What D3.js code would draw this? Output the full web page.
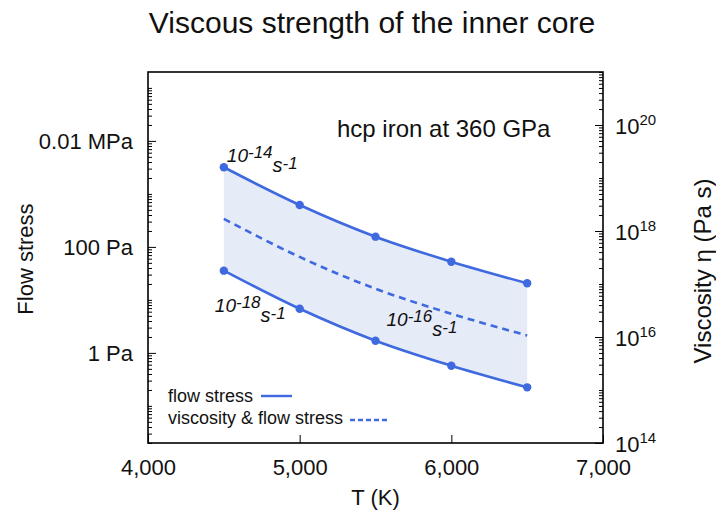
<!DOCTYPE html>
<html><head><meta charset="utf-8">
<script src="https://cdn.jsdelivr.net/npm/d3@7"></script>
<style>
body{margin:0;background:#fff}
svg{display:block}
text{font-family:"Liberation Sans",Arial,Helvetica,sans-serif;fill:#111}
</style>
</head><body>
<svg id="c" width="716" height="513"></svg>
<script>
// ---- data ----
const temps = [4500, 5000, 5500, 6000, 6500];                 // T (K)
const stressFast = [3180, 618, 156, 52.6, 20.6];              // Pa, strain rate 1e-14 s^-1
const stressSlow = [35.6, 6.8, 1.70, 0.573, 0.224];           // Pa, strain rate 1e-18 s^-1
const viscosityMid = [1.70e18, 3.24e17, 8.13e16, 2.75e16, 1.07e16]; // Pa s, 1e-16 s^-1
const xTicks = [4000, 5000, 6000, 7000];
const xTickLabels = ["4,000", "5,000", "6,000", "7,000"];
const stressTicks = [1, 100, 1e4];
const stressTickLabels = ["1 Pa", "100 Pa", "0.01 MPa"];
const viscTicks = [1e14, 1e16, 1e18, 1e20];
const viscTickExp = ["14", "16", "18", "20"];
const rateLabels = [
  {exp: "-14", t: 4500, series: "fast"},
  {exp: "-18", t: 4500, series: "slow"},
  {exp: "-16", t: 5500, series: "mid"}
];

// ---- layout ----
const L = 148, R = 603, T = 72, B = 443;
const blue = "#3f69df", fill = "#e6ebf8";
const svg = d3.select("#c");

const x = d3.scaleLinear().domain([4000, 7000]).range([L, R]);
const yL = d3.scaleLog().domain([Math.pow(10, -1.7), Math.pow(10, 5.3)]).range([B, T]);
const yR = d3.scaleLog().domain([1e14, 1e21]).range([B, T]);

function minorTicks(scale, majors) {
  const [a, b] = scale.domain();
  const out = [];
  for (let k = Math.floor(Math.log10(a)); k <= Math.ceil(Math.log10(b)); k++) {
    for (let m = 1; m <= 9; m++) {
      const v = m * Math.pow(10, k);
      if (v >= a * 0.999 && v <= b * 1.001 && !majors.some(q => Math.abs(q - v) / v < 1e-6)) out.push(v);
    }
  }
  return out;
}

const rows = temps.map((t, i) => ({t, hi: stressFast[i], lo: stressSlow[i], eta: viscosityMid[i]}));

// band
svg.append("path").datum(rows)
  .attr("d", d3.area().x(d => x(d.t)).y0(d => yL(d.lo)).y1(d => yL(d.hi)).curve(d3.curveMonotoneX))
  .attr("fill", fill);

// solid lines
["hi", "lo"].forEach(k => {
  svg.append("path").datum(rows)
    .attr("d", d3.line().x(d => x(d.t)).y(d => yL(d[k])).curve(d3.curveMonotoneX))
    .attr("fill", "none").attr("stroke", blue).attr("stroke-width", 2.6);
  svg.selectAll(null).data(rows).enter().append("circle")
    .attr("cx", d => x(d.t)).attr("cy", d => yL(d[k])).attr("r", 4.2).attr("fill", blue);
});
// dashed viscosity line
svg.append("path").datum(rows)
  .attr("d", d3.line().x(d => x(d.t)).y(d => yR(d.eta)).curve(d3.curveMonotoneX))
  .attr("fill", "none").attr("stroke", blue).attr("stroke-width", 2.6).attr("stroke-dasharray", "7,5");

// axes
function clean(g) { g.select(".domain").remove(); g.selectAll("line").attr("stroke", "#000").attr("stroke-width", 1); }

svg.append("g").attr("transform", `translate(${L},0)`)
  .call(d3.axisRight(yL).tickValues(minorTicks(yL, stressTicks)).tickSize(4).tickFormat(""))
  .call(clean);
svg.append("g").attr("transform", `translate(${L},0)`)
  .call(d3.axisLeft(yL).tickValues(stressTicks).tickSizeInner(-8).tickSizeOuter(0).tickPadding(15)
    .tickFormat((d, i) => stressTickLabels[i]))
  .call(clean)
  .call(g => g.selectAll("text").attr("font-size", 22).attr("dy", "0.35em").attr("font-family", "Liberation Sans, Arial, sans-serif").attr("fill", "#111"));

svg.append("g").attr("transform", `translate(${R},0)`)
  .call(d3.axisLeft(yR).tickValues(minorTicks(yR, viscTicks)).tickSize(4).tickFormat(""))
  .call(clean);
svg.append("g").attr("transform", `translate(${R},0)`)
  .call(d3.axisRight(yR).tickValues(viscTicks).tickSizeInner(-8).tickSizeOuter(0).tickPadding(12).tickFormat(""))
  .call(clean)
  .call(g => g.selectAll("text").each(function (d, i) {
    const t = d3.select(this).attr("font-size", 22).attr("dy", null).attr("y", 8.5)
      .attr("font-family", "Liberation Sans, Arial, sans-serif").attr("fill", "#111");
    t.append("tspan").text("10");
    t.append("tspan").attr("dy", -9.5).attr("font-size", 15).text(viscTickExp[i]);
  }));

svg.append("g").attr("transform", `translate(0,${B})`)
  .call(d3.axisBottom(x).tickValues(xTicks).tickSizeInner(-8).tickSizeOuter(0).tickPadding(16)
    .tickFormat((d, i) => xTickLabels[i]))
  .call(clean)
  .call(g => g.selectAll("text").attr("font-size", 22).attr("font-family", "Liberation Sans, Arial, sans-serif").attr("fill", "#111"));

// frame
svg.append("rect").attr("x", L).attr("y", T).attr("width", R - L).attr("height", B - T)
  .attr("fill", "none").attr("stroke", "#000").attr("stroke-width", 1.6);

// titles
svg.append("text").attr("x", 372).attr("y", 33).attr("text-anchor", "middle").attr("font-size", 30)
  .text("Viscous strength of the inner core");
svg.append("text").attr("x", (L + R) / 2).attr("y", 505).attr("text-anchor", "middle").attr("font-size", 22).text("T (K)");
svg.append("text").attr("transform", "translate(33,259) rotate(-90)").attr("text-anchor", "middle").attr("font-size", 22).text("Flow stress");
svg.append("text").attr("transform", "translate(711,271) rotate(-90)").attr("text-anchor", "middle").attr("font-size", 24).text("Viscosity η (Pa s)");

svg.append("text").attr("x", 337).attr("y", 137).attr("font-size", 24).text("hcp iron at 360 GPa");

// strain-rate annotations
const labelPos = {fast: [3, -5], slow: [-9, 41], mid: [11, 37]};
rateLabels.forEach(lb => {
  const r = rows.find(d => d.t === lb.t);
  const yy = lb.series === "fast" ? yL(r.hi) : lb.series === "slow" ? yL(r.lo) : yR(r.eta);
  const [dx, dy] = labelPos[lb.series];
  const t = svg.append("text").attr("x", x(lb.t) + dx).attr("y", yy + dy)
    .attr("font-style", "italic").attr("font-size", 19);
  t.append("tspan").text("10");
  t.append("tspan").attr("dy", -4).attr("font-size", 17).text(lb.exp);
  t.append("tspan").attr("dy", 14).attr("font-size", 20).text("s");
  t.append("tspan").attr("dy", -3).attr("font-size", 17).text("-1");
});

// legend
svg.append("text").attr("x", 168).attr("y", 402).attr("font-size", 18).text("flow stress");
svg.append("line").attr("x1", 261).attr("x2", 292).attr("y1", 396).attr("y2", 396)
  .attr("stroke", blue).attr("stroke-width", 2.4);
svg.append("text").attr("x", 168).attr("y", 424).attr("font-size", 18).text("viscosity & flow stress");
svg.append("line").attr("x1", 350).attr("x2", 390).attr("y1", 420).attr("y2", 420)
  .attr("stroke", blue).attr("stroke-width", 2.4).attr("stroke-dasharray", "5,3");
</script>
</body></html>
